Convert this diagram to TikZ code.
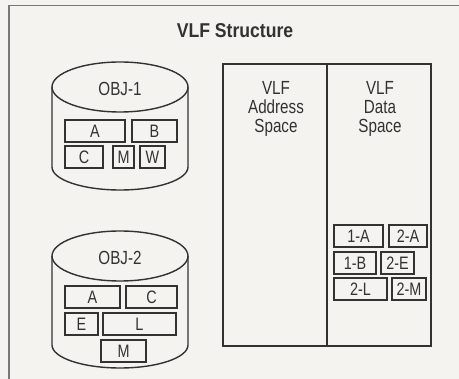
\documentclass[tikz,border=0pt]{standalone}
\usepackage{fontspec}
\setmainfont{Liberation Sans}[FakeStretch=0.8]
\newfontfamily\titlefont{Liberation Sans}[FakeStretch=0.88]
\definecolor{bgc}{RGB}{245,243,239}
\definecolor{ink}{RGB}{50,50,50}
\definecolor{framec}{RGB}{120,120,120}
\begin{document}
\begin{tikzpicture}[x=1pt,y=-1pt,
  line width=1.4pt, draw=ink,
  boxst/.style={draw=ink, line width=1.4pt, inner sep=0pt, text=ink, font=\fontsize{18}{18}\selectfont},
  lbl/.style={text=ink, inner sep=0pt, font=\fontsize{19}{19}\selectfont, align=center},
  ttl/.style={text=ink, inner sep=0pt, font=\titlefont\fontsize{20}{20}\selectfont\bfseries}]
\newcommand\bx[6]{\node[boxst, minimum width={(#4-#2)*1pt}, minimum height={(#5-#3)*1pt}] (#1) at ({(#2+#4)/2},{(#3+#5)/2}) {#6};}
% background and bounding box
\fill[bgc] (0,0) rectangle (459,379);
\useasboundingbox (0,0) rectangle (459,379);
% outer frame (open on right and bottom)
\draw[framec, line width=1.1pt] (459,5.5) -- (9,5.5) -- (9,379);
% title
\node[ttl, anchor=base] (title) at (235,38) {VLF Structure};
% cylinder OBJ-1
\draw (52,87) -- (52,167) arc (180:0:68 and 23) -- (188,87);
\draw (120,87) ellipse (68 and 25);
\node[lbl, anchor=base] (obj1) at (120,96) {OBJ-1};
\bx{oa}{65}{120}{125}{142}{A}
\bx{ob}{132}{120}{177}{142}{B}
\bx{oc}{65}{146}{103}{168}{C}
\bx{om}{113}{146}{134}{168}{M}
\bx{ow}{140}{146}{165}{168}{W}
% cylinder OBJ-2
\draw (52,256) -- (52,345) arc (180:0:68 and 23) -- (188,256);
\draw (120,256) ellipse (68 and 25);
\node[lbl, anchor=base] (obj2) at (120,265) {OBJ-2};
\bx{pa}{65}{286}{120}{308}{A}
\bx{pc}{126}{286}{177}{308}{C}
\bx{pe}{65}{313}{98}{335}{E}
\bx{pl}{103}{313}{176}{335}{L}
\bx{pm}{101}{340}{146}{362}{M}
% VLF spaces
\node[draw=ink, line width=1.4pt, minimum width=104pt, minimum height=282pt, inner sep=0pt] (addr) at (275,205) {};
\node[draw=ink, line width=1.4pt, minimum width=104pt, minimum height=282pt, inner sep=0pt] (data) at (379,205) {};
\node[lbl, anchor=north] (addrt) at (276,81) {VLF\\Address\\Space};
\node[lbl, anchor=north] (datat) at (380,81) {VLF\\Data\\Space};
\bx{d1a}{334}{225}{383}{247}{1-A}
\bx{d2a}{389}{225}{427}{247}{2-A}
\bx{d1b}{334}{252}{376}{274}{1-B}
\bx{d2e}{381}{252}{414}{274}{2-E}
\bx{d2l}{334}{278}{387}{300}{2-L}
\bx{d2m}{392}{278}{426}{300}{2-M}
\end{tikzpicture}
\end{document}
